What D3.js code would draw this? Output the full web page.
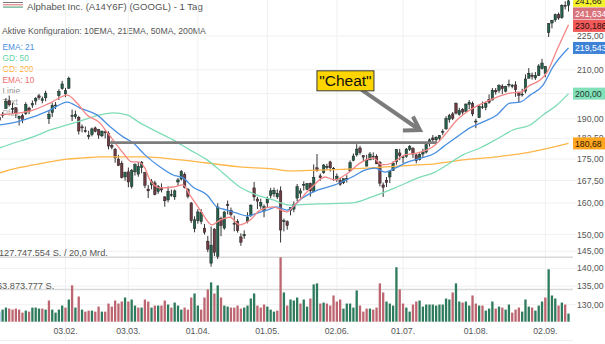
<!DOCTYPE html>
<html><head><meta charset="utf-8">
<script src="https://cdn.jsdelivr.net/npm/d3@7"></script>
<style>html,body{margin:0;padding:0;background:#fff;overflow:hidden}svg{display:block;font-family:"Liberation Sans",Arial,sans-serif}</style>
</head><body>
<svg id="c" width="605" height="344"></svg>
<script>
// ---- DATA ----
const openP=[190.6,191.4,194.0,197.1,194.0,194.3,190.1,191.2,192.0,194.2,195.4,197.0,199.1,197.2,198.3,190.0,192.4,195.0,199.2,202.0,199.9,202.2,191.2,190.8,190.6,186.9,185.4,183.2,184.0,186.5,185.8,183.5,185.0,184.5,180.0,178.5,175.0,173.5,168.7,170.5,165.5,170.5,169.7,172.0,170.2,164.6,166.0,166.7,163.8,165.0,162.0,161.0,162.5,162.0,167.0,168.0,169.5,164.5,160.0,151.8,154.3,154.0,152.0,148.0,141.5,151.7,143.5,155.0,152.0,159.5,157.6,153.5,154.0,149.3,149.6,154.0,156.0,165.0,161.3,159.0,157.4,160.0,162.5,163.0,162.0,164.0,154.0,154.0,157.5,158.0,161.6,163.2,166.1,164.5,166.5,163.7,171.9,169.1,170.2,172.0,174.0,171.4,167.8,167.5,166.7,168.0,170.8,174.5,176.5,179.0,176.2,172.5,174.7,175.7,176.0,173.9,166.0,167.6,168.7,171.0,174.0,177.2,175.7,175.9,178.5,178.8,176.5,174.8,176.8,177.5,180.5,182.7,182.0,182.5,185.0,186.1,189.7,191.9,196.0,191.7,193.6,192.9,195.7,196.0,189.0,190.4,194.7,194.5,197.7,197.4,201.3,201.4,203.1,201.0,203.6,203.0,203.6,200.6,199.7,201.0,206.4,207.7,206.5,207.5,210.5,208.4,226.5,231.0,232.5,235.0,233.5,239.5,239.5];
const highP=[192.0,192.6,198.2,199.2,196.3,194.6,191.2,192.0,196.5,194.7,197.2,198.6,199.9,198.8,201.2,193.0,196.3,196.6,201.8,205.3,202.4,207.1,193.6,193.2,191.1,187.8,187.0,185.4,186.6,187.0,186.1,185.4,185.6,185.2,181.7,179.0,176.5,174.4,170.6,172.0,171.5,173.5,173.9,174.3,170.5,166.0,168.0,167.4,166.0,166.5,162.2,165.5,164.4,164.5,168.4,171.1,170.3,165.0,160.3,155.7,158.0,158.0,153.3,149.6,152.5,152.0,159.9,155.6,157.3,160.8,158.5,155.9,154.8,150.4,151.3,157.0,159.5,167.0,162.0,161.4,159.5,162.1,165.0,165.1,164.5,165.5,155.0,154.4,158.5,160.5,166.3,164.9,167.2,166.6,166.8,173.1,176.8,169.9,173.2,173.3,174.4,172.2,169.9,168.5,168.2,169.3,174.5,177.0,180.4,179.8,176.4,176.5,177.5,177.4,176.7,174.3,166.8,168.7,170.7,174.2,178.6,178.7,176.1,179.0,180.1,179.3,176.8,177.1,178.7,180.5,182.5,183.8,183.3,183.8,186.0,191.0,191.9,192.6,196.5,194.3,194.2,196.0,197.4,196.8,190.0,195.3,196.8,196.6,199.7,202.3,202.3,203.9,203.9,203.2,205.8,203.9,205.1,200.7,202.0,208.0,210.7,208.8,209.0,212.4,214.7,211.5,231.0,232.5,235.5,236.0,240.0,241.5,242.2];
const lowP=[187.5,190.4,193.9,194.8,191.8,190.3,187.4,188.3,191.5,191.8,194.3,195.5,197.5,196.1,196.9,188.0,190.7,193.8,197.4,201.6,198.6,202.0,189.1,190.0,184.0,184.8,184.7,182.2,183.3,184.8,182.4,183.0,182.5,178.5,178.5,173.7,172.5,168.2,167.4,165.2,164.8,169.2,168.8,170.0,164.9,161.6,164.5,162.5,163.0,163.5,158.8,160.2,162.0,161.0,165.7,167.5,164.8,161.5,153.6,150.7,153.4,153.2,150.0,144.7,140.5,143.6,142.7,149.5,151.5,156.3,155.6,151.0,150.6,146.6,148.7,153.5,155.5,160.7,158.0,158.1,155.4,158.7,161.5,162.0,161.3,147.6,151.0,151.5,156.0,157.0,160.5,161.7,164.1,164.2,162.1,163.5,170.5,167.4,169.8,171.2,170.6,167.4,167.0,165.7,166.3,166.8,170.5,174.2,175.9,176.6,174.2,172.4,174.6,174.7,173.2,165.5,162.0,165.3,166.6,170.8,173.0,174.6,173.5,175.5,177.9,175.4,173.5,174.5,175.7,177.0,179.5,181.3,180.8,181.5,183.8,185.8,188.5,189.5,191.7,191.2,191.5,192.7,193.8,191.0,186.4,190.3,193.8,193.3,195.9,197.3,199.6,200.3,199.8,200.5,202.6,202.2,198.7,196.6,198.8,200.1,206.3,205.8,205.7,207.3,210.1,206.8,224.5,228.5,231.5,232.5,233.0,237.5,236.5];
const closeP=[189.4,191.8,196.9,195.5,194.0,192.0,191.0,189.7,195.6,192.9,196.0,198.1,198.4,197.9,200.2,191.8,195.3,195.4,200.9,204.0,201.2,206.4,191.3,191.6,185.3,186.5,185.3,183.6,186.1,185.2,183.8,185.3,184.6,179.7,179.3,175.4,172.7,168.5,170.3,167.0,170.9,173.0,172.4,173.9,165.9,164.0,167.1,162.8,165.5,164.3,160.7,163.9,162.8,164.0,167.7,170.6,165.1,162.2,154.3,154.6,157.1,157.0,150.7,145.6,146.8,144.7,158.7,152.8,157.1,159.1,156.3,153.3,151.2,147.7,150.0,155.4,159.3,162.0,160.6,160.2,158.8,161.3,164.0,164.2,163.2,151.4,154.3,152.8,158.5,159.5,165.4,164.0,166.2,166.5,164.0,168.6,170.9,168.5,172.9,172.4,171.9,171.7,169.0,166.2,168.1,168.2,173.7,176.1,178.6,177.4,175.7,174.7,176.8,176.0,173.3,166.6,165.2,166.8,170.7,173.5,178.5,176.2,175.8,178.6,179.5,176.8,174.4,176.6,177.6,180.2,182.0,182.0,183.0,183.6,185.1,190.1,191.3,190.2,192.2,193.2,192.6,195.8,196.5,191.9,189.1,195.0,194.7,196.1,196.5,201.4,200.7,203.3,202.0,202.9,203.9,203.5,201.6,199.3,199.8,206.1,208.5,207.1,207.5,211.6,212.9,211.4,230.7,232.3,235.0,233.4,239.5,239.2,241.7];
// volume in millions of shares
const volumeM=[20,24,28,26,24,26,24,18,22,20,28,28,26,26,24,42,24,18,24,32,28,44,72,28,50,24,20,22,22,20,30,20,20,36,30,42,36,40,48,40,44,32,28,28,44,40,28,32,32,32,42,34,28,38,32,24,28,24,48,56,32,24,48,64,78,56,72,48,32,30,28,28,32,26,28,32,46,56,32,28,34,30,24,20,22,127.75,58,32,44,42,48,36,44,30,46,74,76,36,38,36,32,52,40,44,26,36,36,28,62,32,20,26,26,24,28,76,58,40,36,32,108,64,36,28,20,34,40,42,30,34,34,34,32,34,34,46,44,58,76,40,38,40,32,52,36,32,32,22,26,40,26,30,28,24,34,18,24,28,20,44,30,28,22,32,40,48,104,52,46,32,38,34,16];
// moving averages: [trading-day index, value]
const ema10=[[0,191.5],[6.3,192.3],[10.2,193.4],[15.3,196.2],[20.5,199.4],[23.5,196.2],[26.5,191.5],[30.4,188.4],[32.5,185.0],[35,180.9],[37.4,177.2],[40.1,174.0],[41.9,174.0],[44,171.8],[45.5,167.7],[48.6,165.0],[52.5,165.3],[55.5,166.0],[57.6,162.6],[60.7,157.7],[64.3,153.0],[66.7,154.5],[69.7,155.4],[72.7,153.0],[75.8,154.5],[78.8,157.7],[82.7,158.7],[86.9,157.1],[89.4,159.5],[94.5,165.3],[98.4,168.7],[101.4,167.7],[104.5,169.4],[109.6,174.0],[112.9,175.4],[115.7,172.9],[118.7,173.6],[122.6,176.5],[126.5,177.2],[131.7,180.1],[134.1,183.1],[138.3,189.5],[142.2,193.4],[146.2,196.2],[150.4,198.6],[154.3,200.2],[157.4,200.6],[160.4,203.5],[163.4,205.6],[165.5,208.9],[168.5,218.6],[172,230.19]];
const ema21=[[0,187.6],[5.35,188.8],[10.2,190.7],[15.3,193.4],[20.5,196.6],[24.4,194.2],[29.5,191.5],[33.5,186.9],[37.4,183.1],[40.4,180.9],[44,176.5],[48.6,172.2],[52.5,169.4],[55.5,168.4],[58.5,165.3],[62.8,162.6],[65.8,158.7],[68.8,157.7],[71.8,156.7],[74.9,155.8],[77.9,156.7],[80.9,157.7],[83.9,158.7],[86.9,157.7],[91.5,161.6],[96.3,164.3],[101.4,166.0],[106.6,168.7],[110.5,171.1],[113.5,171.8],[116.6,170.4],[119.6,171.8],[123.5,174.0],[127.7,175.4],[131.7,177.2],[134.1,179.4],[138.3,183.1],[142.2,186.5],[146.2,188.8],[150.4,191.5],[154.3,196.2],[157.4,196.6],[160.4,199.4],[164.3,203.5],[167.3,211.2],[172,219.54]];
const gd50=[[0,179.0],[5.35,181.2],[10.2,183.1],[15.3,185.7],[20.5,187.6],[25.3,189.5],[30.4,191.5],[34.4,192.3],[38.6,191.5],[42.5,188.4],[47.7,185.0],[52.5,182.0],[57.6,178.3],[62.8,174.7],[67.6,170.1],[72.7,165.3],[77.9,162.6],[82.7,161.0],[87.8,159.3],[96.3,159.7],[106.6,160.0],[112.6,162.0],[119.6,165.0],[126.5,168.4],[131.7,170.4],[135.3,172.9],[140.1,176.5],[145.3,179.0],[150.4,182.3],[155.2,185.7],[160.4,187.6],[164.3,191.5],[168.5,195.4],[172,200.0]];
const gd200=[[0,170.1],[5.35,171.8],[10.2,172.9],[15.3,174.0],[20.5,175.0],[25.3,175.4],[30.4,175.8],[44,175.8],[52.5,175.0],[62.8,173.6],[72.7,172.2],[82.7,171.5],[87.8,170.8],[96.3,171.1],[106.6,171.5],[116.6,172.2],[126.5,172.9],[131.7,173.3],[140.1,174.7],[150.4,175.8],[160.4,177.5],[172,180.68]];
const priceTicks=[225,210,200,190,182.5,175,167.5,160,150,145,140,135,130];
const dateTickIdx=[20,39,60,81,102,122,144,165];
const dateTickLabels=["03.02.","03.03.","01.04.","01.05.","02.06.","01.07.","01.08.","02.09."];
const volGuides=[127747554,63873777];
const badgeValues=[241.66,241.634,230.186,219.543,200.00,180.68];
const badgeLabels=["241,66","241,634","230,186","219,543","200,00","180,68"];
const legendLabels=["EMA: 21","GD: 50","GD: 200","EMA: 10","Linie","Text","Pfeil"];
const hLine={from:33.5,to:132,value:181.0};
const arrow={fromIdx:109.5,fromVal:201.5,toIdx:127.1,toVal:185.7};
const note={text:'"Cheat"',idx:104.6,value:205.3};

// ---- DRAWING ----
const svg=d3.select('#c');
const plotR=573;
const x=d3.scaleLinear().domain([0,172]).range([-0.7,568.5]);
const y=d3.scaleLog().domain([130,240]).range([304.7,4.3]);
const yv=d3.scaleLinear().domain([0,127.75]).range([321.7,257.3]);
const de=d3.formatLocale({decimal:",",thousands:".",grouping:[3],currency:["","€"]});
const f2=de.format(",.2f"), fint=de.format(",d");

svg.append('defs').append('clipPath').attr('id','clp').append('rect').attr('x',0).attr('y',0).attr('width',plotR).attr('height',344);

// header
const hdr=svg.append('g');
[['#7a7a7a',2.5],['#e06a6a',4.8],['#3f9a70',7.1]].forEach(([c,yy])=>hdr.append('line').attr('x1',3).attr('x2',23).attr('y1',yy).attr('y2',yy).attr('stroke',c).attr('stroke-width',1));
hdr.append('text').attr('x',27).attr('y',9.5).attr('font-size',9.6).attr('fill','#555').text('Alphabet Inc. (A14Y6F) (GOOGL) - 1 Tag');
hdr.append('text').attr('x',2).attr('y',34).attr('font-size',8.7).attr('fill','#555').text('Aktive Konfiguration: 10EMA, 21EMA, 50MA, 200MA');
const legCol=['#4a8fe0','#62d3a4','#ffad33','#f07070','#909090','#a8a8a8','#b0b0b0'];
hdr.selectAll('text.lg').data(legendLabels).join('text').attr('class','lg')
  .attr('x',2.5).attr('y',(d,i)=>50+i*11).attr('font-size',8.3).attr('fill',(d,i)=>legCol[i]).text(d=>d);

// grid
const grid=svg.append('g');
grid.selectAll('line.h').data(priceTicks).join('line').attr('class','h')
  .attr('x1',0).attr('x2',plotR+3).attr('y1',d=>y(d)).attr('y2',d=>y(d)).attr('stroke','#f1f1f1');
grid.selectAll('line.v').data(dateTickIdx).join('line').attr('class','v')
  .attr('x1',d=>x(d)).attr('x2',d=>x(d)).attr('y1',0).attr('y2',340).attr('stroke','#f1f1f1');
grid.append('line').attr('x1',0).attr('x2',plotR).attr('y1',340.5).attr('y2',340.5).attr('stroke','#eeeeee');
grid.selectAll('line.vg').data(volGuides).join('line').attr('class','vg')
  .attr('x1',0).attr('x2',plotR).attr('y1',d=>yv(d/1e6)).attr('y2',d=>yv(d/1e6)).attr('stroke','#d9d9d9').attr('stroke-width',1.6);

// volume labels
svg.append('text').attr('x',-1).attr('y',yv(volGuides[0]/1e6)-1).attr('font-size',9.2).attr('fill','#555')
  .text(fint(volGuides[0])+' S. / 20,0 Mrd.');
svg.append('text').attr('x',-3).attr('y',yv(volGuides[1]/1e6)-1).attr('font-size',9.2).attr('fill','#555')
  .text(fint(volGuides[1])+' S.');

const plot=svg.append('g').attr('clip-path','url(#clp)');
// volume bars
plot.append('g').selectAll('rect').data(volumeM).join('rect')
  .attr('x',(d,i)=>x(i)-1.15).attr('width',2.3)
  .attr('y',d=>yv(d)).attr('height',d=>yv(0)-yv(d))
  .attr('fill',(d,i)=> i===0 ? '#6aa6e8' : (closeP[i]>=closeP[i-1] ? '#2e7a5c' : '#bd6570'));

// candles
const cg=plot.append('g');
closeP.forEach((c,i)=>{
  const o=openP[i], up=c>=o;
  cg.append('line').attr('x1',x(i)).attr('x2',x(i)).attr('y1',y(highP[i])).attr('y2',y(lowP[i])).attr('stroke','#1c1c1c').attr('stroke-width',0.9);
  const top=y(Math.max(o,c)), bot=y(Math.min(o,c));
  cg.append('rect').attr('x',x(i)-1.25).attr('width',2.5).attr('y',top).attr('height',Math.max(0.9,bot-top))
    .attr('fill',up?'#24604a':'#6e3a42').attr('stroke','#1a1a1a').attr('stroke-width',0.45);
});

// moving averages
const line=d3.line().x(d=>x(d[0])).y(d=>y(d[1])).curve(d3.curveMonotoneX);
[[gd200,'#ffb648'],[gd50,'#7edcb6'],[ema21,'#4a8fe0'],[ema10,'#f58585']].forEach(([s,c])=>{
  plot.append('path').datum(s).attr('d',line).attr('fill','none').attr('stroke',c).attr('stroke-width',1.3);
});

// horizontal drawn line
plot.append('line').attr('x1',x(hLine.from)).attr('x2',x(hLine.to)).attr('y1',y(hLine.value)).attr('y2',y(hLine.value))
  .attr('stroke','#7d7d7d').attr('stroke-width',2.8);

// arrow
const ax0=x(arrow.fromIdx), ay0=y(arrow.fromVal), ax1=x(arrow.toIdx), ay1=y(arrow.toVal);
svg.append('line').attr('x1',ax0).attr('y1',ay0).attr('x2',ax1-1.5).attr('y2',ay1-1).attr('stroke','#7b7b7b').attr('stroke-width',4);
svg.append('path').attr('d',`M${ax1-17},${ay1+0.5} L${ax1},${ay1} L${ax1-7},${ay1-13.5}`)
  .attr('fill','none').attr('stroke','#7b7b7b').attr('stroke-width',4).attr('stroke-linejoin','miter');

// note box
const nx=x(note.idx), ny=y(note.value);
svg.append('rect').attr('x',nx-28.5).attr('y',ny-10).attr('width',57).attr('height',20)
  .attr('fill','#ffd500').attr('stroke','#3a3a3a').attr('stroke-width',1);
svg.append('text').attr('x',nx).attr('y',ny+5.6).attr('text-anchor','middle').attr('font-size',15.5).attr('fill','#111').text(note.text);

// price axis labels (labels fully hidden under a value badge are skipped)
const shownTicks=priceTicks.filter(t=>!badgeValues.some(b=>Math.abs(y(b)-y(t))<3));
svg.append('g').selectAll('text').data(shownTicks).join('text')
  .attr('x',577).attr('y',d=>y(d)+3).attr('font-size',8.7).attr('fill','#555').text(d=>f2(d));

// date labels
svg.append('g').selectAll('text').data(dateTickIdx).join('text')
  .attr('x',d=>x(d)).attr('y',334).attr('text-anchor','middle').attr('font-size',8.7).attr('fill','#555')
  .text((d,i)=>dateTickLabels[i]);

// badges
const bFill=['#f4f22a','#d9737b','#f25a5a','#3d82d6','#82e0b9','#ffa51f'];
const bText=['#222','#fff','#2a1010','#fff','#1d3a2c','#2a1a00'];
let prev=-99;
badgeValues.forEach((v,i)=>{
  let cy=y(v);
  if(cy<prev+12.5) cy=prev+12.5;
  prev=cy;
  svg.append('rect').attr('x',573).attr('y',cy-6).attr('width',33).attr('height',12).attr('fill',bFill[i]);
  svg.append('text').attr('x',575).attr('y',cy+3.2).attr('font-size',8.7).attr('fill',bText[i]).text(badgeLabels[i]);
});
</script>
</body></html>
